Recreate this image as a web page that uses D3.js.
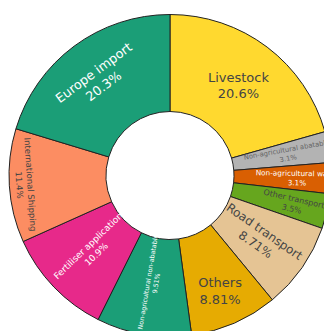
<!DOCTYPE html>
<html lang="en">
<head>
    <meta charset="UTF-8">
    <title>Emissions donut</title>
    <style>
      body { margin: 0; background: #fff; }
      svg { display: block; }
    </style>
</head>
<body>
<script src="https://d3js.org/d3.v7.min.js"></script>
<script>
  var labels = ["Livestock", "Non-agricultural abatable", "Non-agricultural waste", "Other transport",
                "Road transport", "Others", "Non-agricultural non-abatable", "Fertiliser application",
                "International Shipping", "Europe import"];
  var values = [20.6, 3.1, 3.1, 3.5, 8.71, 8.81, 9.51, 10.9, 11.4, 20.3];
  var colors = ["#ffd92f", "#b3b3b3", "#d95f02", "#66a61e", "#e5c494", "#e6ab02", "#1b9e77", "#e7298a",
                "#fc8d62", "#1b9e77"];

  // label styling: orientation (h = horizontal, t = tangential, r = radial), font size, spot across ring, colour
  var textMode  = ["h", "r", "r", "r", "r", "h", "r", "r", "t", "t"];
  var textSize  = [13, 6.8, 7.3, 8, 12, 13, 6.4, 9, 8.5, 12.8];
  var textSpot  = [0.51, 0.57, 0.65, 0.64, 0.47, 0.63, 0.46, 0.45, 0.84, 0.58];
  var textColor = ["#444", "#666", "#fff", "#444", "#444", "#444", "#fff", "#fff", "#444", "#fff"];

  (function() {
    var width = 324;
    var height = 331;
    var cx = 170, cy = 175.5;
    var outer = 161, inner = 64;

    var svg = d3.select("body").append("svg")
      .attr("width", width)
      .attr("height", height);

    var g = svg.append("g")
      .attr("transform", "translate(" + cx + "," + cy + ")");

    var pie = d3.pie().sort(null).value(function(d) { return d; });
    var arc = d3.arc().innerRadius(inner).outerRadius(outer);
    var arcs = pie(values);

    g.selectAll("path.slice")
      .data(arcs)
      .enter().append("path")
      .attr("class", "slice")
      .attr("d", arc)
      .attr("fill", function(d, i) { return colors[i]; })
      .attr("stroke", "#222")
      .attr("stroke-width", 1);

    var fmt = d3.format(".3~r");

    function norm(a) {
      while (a > 90) a -= 180;
      while (a <= -90) a += 180;
      return a;
    }

    arcs.forEach(function(d, i) {
      var mid = (d.startAngle + d.endAngle) / 2;
      var deg = mid * 180 / Math.PI;
      var r = inner + textSpot[i] * (outer - inner);
      var x = Math.sin(mid) * r, y = -Math.cos(mid) * r;
      var rot = 0;
      if (textMode[i] === "t") rot = norm(deg);
      if (textMode[i] === "r") rot = norm(deg - 90);
      var fs = textSize[i];
      var lh = fs * 1.3;
      var t = g.append("text")
        .attr("transform", "translate(" + x + "," + y + ") rotate(" + rot + ")")
        .attr("text-anchor", "middle")
        .attr("dominant-baseline", "central")
        .style("font-family", "Verdana, 'DejaVu Sans', sans-serif")
        .style("font-size", fs + "px")
        .style("fill", textColor[i]);
      t.append("tspan").attr("x", 0).attr("y", -lh / 2).text(labels[i]);
      t.append("tspan").attr("x", 0).attr("y", lh / 2).text(fmt(values[i]) + "%");
    });
  })();
</script>
</body>
</html>
